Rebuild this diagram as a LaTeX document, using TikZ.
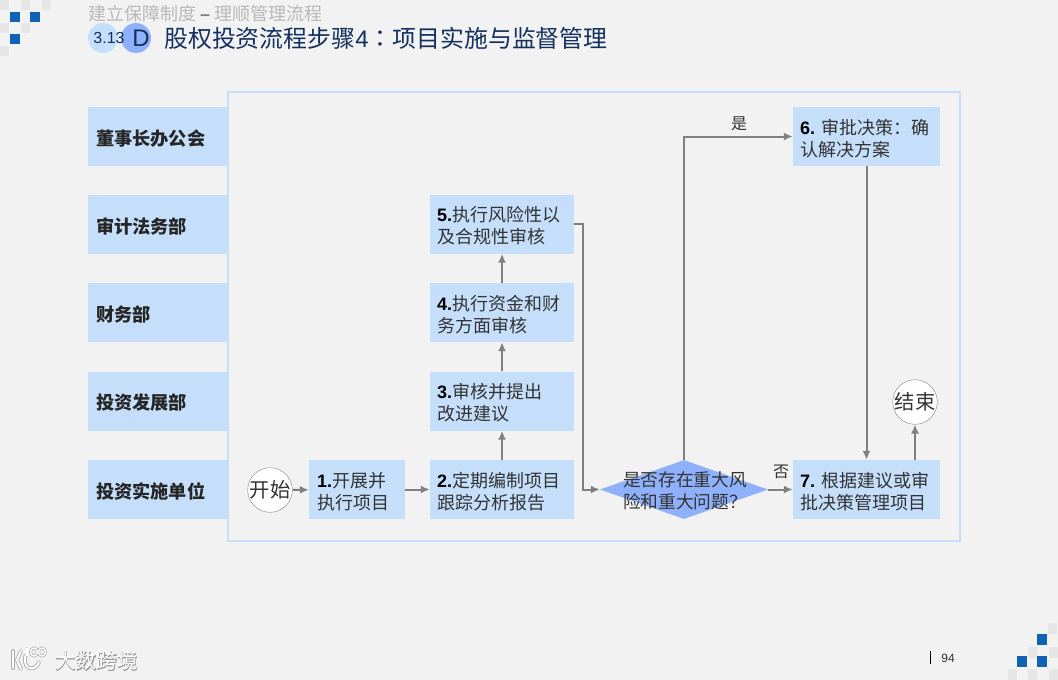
\documentclass[tikz,border=0pt]{standalone}
\usepackage{fontspec}
\setmainfont{Noto Sans CJK SC}
\newfontfamily\latinf{Liberation Sans}
\newfontfamily\tcf{Noto Sans CJK TC}
\newfontfamily\haloF[FakeBold=3]{Noto Sans CJK SC}
\usetikzlibrary{shapes.geometric,arrows.meta,positioning}
\definecolor{bg}{HTML}{F2F2F2}
\definecolor{boxc}{HTML}{C5DFFB}
\definecolor{linec}{HTML}{808080}
\definecolor{dia}{HTML}{8FB0FA}
\definecolor{navy}{HTML}{14305F}
\definecolor{deco}{HTML}{E6E6E6}
\definecolor{bluec}{HTML}{0F62B4}
\definecolor{txt}{HTML}{333333}
\newcommand{\dg}[1]{{\latinf\bfseries\color{black}#1}}
\newcommand{\lowt}[2]{\vbox{\kern4pt\hbox{\parbox{#1}{#2}}}}
\tikzset{
 lane/.style={fill=boxc,minimum width=140pt,minimum height=59pt,inner sep=0pt,font=\fontsize{18.2}{22}\selectfont\bfseries,text=black!85},
 stepbox/.style={fill=boxc,inner sep=0pt,minimum height=59pt,font=\fontsize{18}{22}\selectfont,text=txt},
 term/.style={circle,draw=linec,fill=white,minimum size=41pt,inner sep=0pt,font=\fontsize{20.3}{22}\selectfont,text=txt},
 conn/.style={draw=linec,line width=2pt,-{Latex[length=9pt,width=8pt]}},
 squareb/.style={fill=bluec},
 squarel/.style={fill=deco},
 logo/.style={draw=white,line width=2pt,line cap=round,line join=round},
 logos/.style={draw=black!45,line width=3.8pt,line cap=round,line join=round,opacity=.7},
 logothin/.style={draw=white,line width=1.4pt,line cap=round},
 logothins/.style={draw=black!45,line width=2.8pt,line cap=round,opacity=.7},
}
\begin{document}
\begin{tikzpicture}[x=1pt,y=-1pt]
\useasboundingbox (0,0) rectangle (1058,680);
\fill[bg] (0,0) rectangle (1058,680);
% corner decoration
\foreach \x/\y in {0/0,21/0,42/0,0/23,21/23,0/46}{\fill[squarel] (\x,\y) rectangle +(9,10);}
\foreach \x/\y in {10/12,30/12,10/34}{\fill[squareb] (\x,\y) rectangle +(10,10);}
\foreach \x/\y in {1048/623,1028/647,1049/647,1008/669,1028/669,1049/669}{\fill[squarel] (\x,\y) rectangle +(9,11);}
\foreach \x/\y in {1037/634,1017/656,1037/656}{\fill[squareb] (\x,\y) rectangle +(10,11);}
% titles
\node[anchor=west,inner sep=0pt,text=black!28,font=\fontsize{18}{20}\selectfont] (sub) at (88,14) {建立保障制度 {\latinf\bfseries\color{black!50}–} 理顺管理流程};
\fill[boxc] (103,38) circle (15);
\fill[dia] (136,38) circle (15);
\node[inner sep=0pt,text=navy,font=\latinf\fontsize{16}{18}\selectfont] (num) at (109,38) {3.13};
\node[inner sep=0pt,text=navy,font=\latinf\fontsize{24}{26}\selectfont] (d) at (141,38) {D};
\node[anchor=west,inner sep=0pt,text=navy,font=\fontsize{23.9}{26}\selectfont] (title) at (164,38) {股权投资流程步骤{\latinf 4}{\tcf ：}项目实施与监督管理};
% frame
\draw[boxc,line width=2.6pt] (228,92) rectangle (960,541);
% lanes
\node[lane] (l1) at (158,136.5) {\lowt{124pt}{董事长办公会}};
\node[lane] (l2) at (158,224) {\lowt{124pt}{审计法务部}};
\node[lane] (l3) at (158,312.5) {\lowt{124pt}{财务部}};
\node[lane] (l4) at (158,401) {\lowt{124pt}{投资发展部}};
\node[lane] (l5) at (158,489.5) {\lowt{124pt}{投资实施单位}};
% steps
\node[term] (start) at (270,490) {开始};
\node[stepbox,minimum width=96pt] (b1) at (357,489.5) {\lowt{80pt}{\dg{1.}开展并\\执行项目}};
\node[stepbox,minimum width=144pt] (b2) at (502,489.5) {\lowt{130pt}{\dg{2.}定期编制项目\\跟踪分析报告}};
\node[stepbox,minimum width=144pt] (b3) at (502,401) {\lowt{130pt}{\dg{3.}审核并提出\\改进建议}};
\node[stepbox,minimum width=144pt] (b4) at (502,312.5) {\lowt{130pt}{\dg{4.}执行资金和财\\务方面审核}};
\node[stepbox,minimum width=144pt] (b5) at (502,224) {\lowt{130pt}{\dg{5.}执行风险性以\\及合规性审核}};
\node[stepbox,minimum width=147pt] (b6) at (866.5,136.5) {\lowt{133pt}{\dg{6. }审批决策：确\\认解决方案}};
\node[stepbox,minimum width=147pt] (b7) at (866.5,489.5) {\lowt{133pt}{\dg{7. }根据建议或审\\批决策管理项目}};
\node[diamond,fill=dia,minimum width=168pt,minimum height=59pt,inner sep=0pt,aspect=2.85] (q) at (684,489.5) {};
\node[term,minimum size=40pt] (end) at (915,402) {结束};
\coordinate (upper) at (q.north |- b6.west);
\coordinate (rt) at (583,224);
\coordinate (rb) at (rt |- q.west);
% connectors
\draw[conn] (start) -- (b1);
\draw[conn] (b1) -- (b2);
\draw[conn] (b2) -- (b3);
\draw[conn] (b3) -- (b4);
\draw[conn] (b4) -- (b5);
\draw[conn] (b5.east) -- (rt) -- (rb) -- (q.west);
\draw[conn] (q.north) -- (upper) -- (b6.west);
\draw[conn] (q.east) -- (b7.west);
\draw[conn] (b6.south) -- (b7.north);
\draw[conn] (b7.north -| end) -- (end.south);
\node[inner sep=0pt,align=left,text=txt,font=\fontsize{17.7}{22}\selectfont] (qt) at (685,491) {是否存在重大风\\险和重大问题？};
\node[inner sep=0pt,text=txt,font=\fontsize{16}{18}\selectfont] (yes) at (739,124) {是};
\node[inner sep=0pt,text=txt,font=\fontsize{16}{18}\selectfont] (no) at (781,472) {否};
% footer
\draw[black,line width=1pt] (930,651) -- (930,664);
\node[inner sep=0pt,text=black!80,font=\latinf\fontsize{12}{14}\selectfont] (page) at (948,658) {94};
% logo
\foreach \st/\th in {logos/logothins,logo/logothin}{
 \draw[\st] (13,651) -- (13,668);
 \draw[\st] (21,651) -- (17,660) -- (21,669);
 \draw[\st] (25,656) .. controls (23,672) and (36,671) .. (39,662);
 \draw[\th] (27,648) -- (27,656);
 \draw[\th] (34,652) ellipse (3.5 and 4);
 \draw[\th] (42,652) ellipse (3.5 and 4);
}
\node[anchor=west,inner sep=0pt,text=black!40,font=\haloF\fontsize{20.7}{22}\selectfont] (brands) at (55,661) {大数跨境};
\node[anchor=west,inner sep=0pt,text=white,font=\fontsize{20.7}{22}\selectfont] (brand) at (55,661) {大数跨境};
\end{tikzpicture}
\end{document}
